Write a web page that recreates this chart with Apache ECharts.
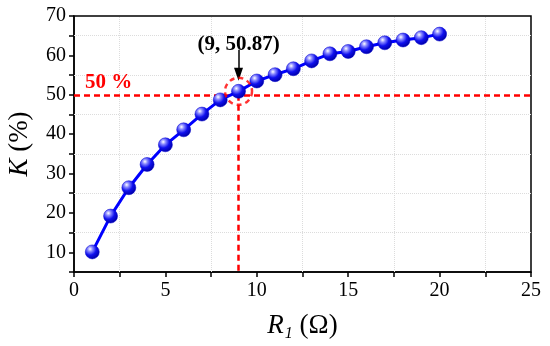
<!DOCTYPE html>
<html><head><meta charset="utf-8">
<script src="https://cdn.jsdelivr.net/npm/echarts@6/dist/echarts.min.js"></script>
<style>html,body{margin:0;padding:0;background:#fff}#c{width:550px;height:346px}</style>
</head><body><div id="c"></div>
<script>
const rValues = [1,2,3,4,5,6,7,8,9,10,11,12,13,14,15,16,17,18,19,20];
const kValues = [10.1,19.2,26.4,32.3,37.3,41.1,45.1,48.7,50.87,53.5,55.1,56.6,58.6,60.4,61.0,62.2,63.2,63.9,64.5,65.4];
const xGrid = [2.5,7.5,12.5,17.5,22.5];
const yGrid = [15,25,35,45,55,65];
const threshold = 50;
const highlight = [9, 50.87];

const font = 'Liberation Serif, Times New Roman, serif';
const chart = echarts.init(document.getElementById('c'));
const gridLines = [];
xGrid.forEach(v => gridLines.push([{coord:[v,5]},{coord:[v,70]}]));
yGrid.forEach(v => gridLines.push([{coord:[0,v]},{coord:[25,v]}]));

chart.setOption({
  animation:false,
  grid:{left:74,right:19,top:16,bottom:74,containLabel:false,outerBoundsMode:'none',show:true,borderColor:'#000',borderWidth:1.5,backgroundColor:'transparent'},
  xAxis:{type:'value',min:0,max:25,interval:2.5,
    axisLine:{lineStyle:{color:'#000',width:1.5}},
    axisTick:{show:true,length:5,lineStyle:{color:'#000',width:1.5}},
    axisLabel:{color:'#000',fontFamily:font,fontSize:20,margin:9,formatter:v=>(v%5===0?String(v):'')},
    splitLine:{show:false},
    name:'{i|R}{s|1}{n| (Ω)}',nameLocation:'middle',nameGap:38,
    nameTextStyle:{rich:{
      i:{fontFamily:font,fontSize:27,fontStyle:'italic',color:'#000'},
      s:{fontFamily:font,fontSize:16,fontStyle:'italic',color:'#000',padding:[16,0,0,1]},
      n:{fontFamily:font,fontSize:27,color:'#000'}}}
  },
  yAxis:{type:'value',min:5,max:70,interval:5,
    axisLine:{lineStyle:{color:'#000',width:1.5}},
    axisTick:{show:true,length:5,lineStyle:{color:'#000',width:1.5}},
    axisLabel:{color:'#000',fontFamily:font,fontSize:20,margin:8,formatter:v=>(v%10===0?String(v):'')},
    splitLine:{show:false},
    name:'{i|K}{n| (%)}',nameLocation:'middle',nameGap:41,
    nameTextStyle:{rich:{
      i:{fontFamily:font,fontSize:27,fontStyle:'italic',color:'#000'},
      n:{fontFamily:font,fontSize:27,color:'#000'}}}
  },
  series:[
    {type:'line',data:[],silent:true,
      markLine:{silent:true,symbol:['none','none'],label:{show:false},
        lineStyle:{color:'#dcdcdc',type:'dotted',width:1},data:gridLines}},
    {type:'line',data:[],silent:true,
      markLine:{silent:true,symbol:['none','none'],label:{show:false},
        lineStyle:{color:'#ff0000',type:[6,4],width:2.5},
        data:[[{coord:[0,threshold]},{coord:[25,threshold]}],[{coord:[highlight[0],threshold]},{coord:[highlight[0],5]}]]}},
    {type:'line',data:rValues.map((r,i)=>[r,kValues[i]]),
      lineStyle:{color:'#0000ff',width:3},
      symbol:'circle',symbolSize:14,
      itemStyle:{color:new echarts.graphic.RadialGradient(0.35,0.3,0.7,[
        {offset:0,color:'#ffffff'},{offset:0.25,color:'#8888ff'},{offset:0.6,color:'#1010ee'},{offset:1,color:'#0000aa'}]),
        borderColor:'#0000cc',borderWidth:0.5},
      z:5},
    {type:'scatter',data:[highlight],symbol:'circle',symbolSize:27,silent:true,z:6,
      itemStyle:{color:'transparent',borderColor:'#ff0000',borderWidth:2.5,borderType:[5,4]}},
    {type:'line',data:[],silent:true,z:7,
      markLine:{silent:true,symbol:['none','triangle'],symbolSize:[9,13],label:{show:false},
        lineStyle:{color:'#000',type:'solid',width:1.5},
        data:[[{coord:[highlight[0],61.4]},{coord:[highlight[0],55.2]}]]},
      markPoint:{silent:true,symbol:'circle',symbolSize:1,itemStyle:{color:'transparent'},data:[
        {coord:[highlight[0],62.8],label:{show:true,position:'inside',formatter:'(9, 50.87)',color:'#000',fontFamily:font,fontSize:21,fontWeight:'bold'}},
        {coord:[1.9,53.0],label:{show:true,position:'inside',formatter:'50 %',color:'#ff0000',fontFamily:font,fontSize:21,fontWeight:'bold'}}
      ]}}
  ]
});
</script></body></html>
